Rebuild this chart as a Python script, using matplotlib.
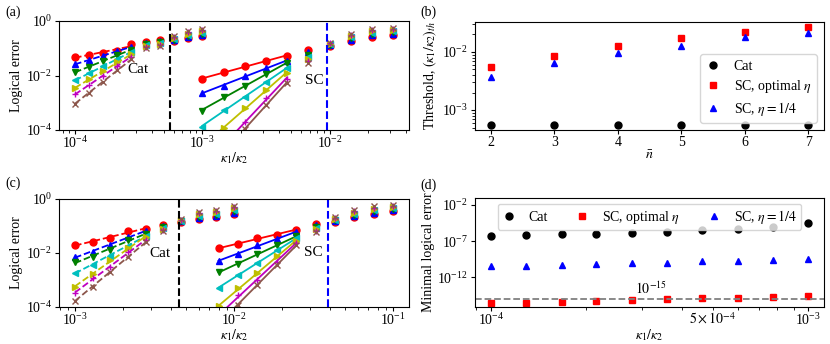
import numpy as np
import matplotlib
matplotlib.use('Agg')
import matplotlib.pyplot as plt
from matplotlib.ticker import FixedLocator, NullLocator, FuncFormatter

plt.rcParams['font.family'] = ['Liberation Serif', 'DejaVu Serif']
plt.rcParams['mathtext.fontset'] = 'stix'
plt.rcParams['font.size'] = 10
plt.rcParams['xtick.major.pad'] = 1.0
plt.rcParams['xtick.minor.pad'] = 1.0
plt.rcParams['ytick.major.pad'] = 2.0
plt.rcParams['xtick.major.size'] = 3.0
plt.rcParams['ytick.major.size'] = 3.0
plt.rcParams['axes.labelpad'] = 2.0

colors = ['r', 'b', 'g', 'c', 'y', 'm', 'tab:brown']
markers = ['o', '^', 'v', '<', '>', '+', 'x']

# ---- panel (a): log10 of logical error, one row per nbar ----
a_cat_x = [1.00e-4, 1.29e-4, 1.67e-4, 2.15e-4, 2.78e-4, 3.59e-4, 4.64e-4, 5.99e-4, 7.74e-4, 1.00e-3]
a_cat_e = [
    [-1.31, -1.25, -1.17, -1.09, -0.86, -0.76, -0.70, -0.74, -0.62, -0.55],
    [-1.59, -1.43, -1.27, -1.10, -0.95, -0.80, -0.73, -0.71, -0.58, -0.51],
    [-1.88, -1.68, -1.47, -1.25, -1.05, -0.84, -0.77, -0.68, -0.54, -0.47],
    [-2.18, -1.92, -1.66, -1.38, -1.14, -0.88, -0.80, -0.65, -0.50, -0.43],
    [-2.45, -2.14, -1.85, -1.52, -1.22, -0.92, -0.83, -0.61, -0.46, -0.38],
    [-2.69, -2.35, -2.01, -1.64, -1.31, -0.96, -0.87, -0.58, -0.42, -0.34],
    [-3.03, -2.63, -2.23, -1.80, -1.41, -1.00, -0.90, -0.55, -0.38, -0.30],
]
a_sc_x = [1.00e-3, 1.47e-3, 2.15e-3, 3.16e-3, 4.64e-3, 6.81e-3, 1.00e-2, 1.47e-2, 2.15e-2, 3.16e-2]
a_sc_e = [
    [-2.14, -1.86, -1.66, -1.48, -1.27, -1.08, -0.90, -0.72, -0.57, -0.50],
    [-2.65, -2.37, -2.01, -1.74, -1.46, -1.15, -0.88, -0.68, -0.52, -0.46],
    [-3.30, -2.78, -2.37, -1.96, -1.55, -1.23, -0.87, -0.63, -0.47, -0.42],
    [-3.88, -3.27, -2.78, -2.23, -1.74, -1.31, -0.85, -0.59, -0.43, -0.38],
    [-4.60, -3.94, -3.20, -2.53, -1.90, -1.39, -0.83, -0.55, -0.38, -0.33],
    [-5.40, -4.55, -3.72, -2.84, -2.12, -1.47, -0.82, -0.50, -0.33, -0.29],
    [-5.70, -4.80, -3.98, -3.08, -2.26, -1.55, -0.80, -0.46, -0.28, -0.25],
]
a_thresholds = [5.56e-4, 9.5e-3]

# ---- panel (b): thresholds vs nbar ----
nbar = [2, 3, 4, 5, 6, 7]
thr_cat = [5.5e-4, 5.5e-4, 5.5e-4, 5.5e-4, 5.5e-4, 5.5e-4]
thr_sc_opt = [5.5e-3, 8.6e-3, 1.26e-2, 1.72e-2, 2.2e-2, 2.73e-2]
thr_sc_quarter = [3.7e-3, 6.4e-3, 9.5e-3, 1.29e-2, 1.79e-2, 2.12e-2]

# ---- panel (c) ----
c_cat_x = [1.00e-3, 1.29e-3, 1.67e-3, 2.15e-3, 2.78e-3, 3.59e-3, 4.64e-3, 5.99e-3, 7.74e-3, 1.00e-2]
c_cat_e = [
    [-1.69, -1.61, -1.44, -1.19, -1.10, -0.96, -0.85, -0.74, -0.68, -0.55],
    [-2.14, -1.96, -1.71, -1.40, -1.18, -1.00, -0.83, -0.70, -0.63, -0.50],
    [-2.33, -2.14, -1.89, -1.52, -1.28, -1.03, -0.82, -0.66, -0.58, -0.45],
    [-2.73, -2.43, -2.10, -1.73, -1.36, -1.07, -0.80, -0.62, -0.54, -0.40],
    [-3.26, -2.77, -2.27, -1.82, -1.42, -1.10, -0.78, -0.57, -0.49, -0.35],
    [-3.50, -2.92, -2.52, -1.98, -1.53, -1.14, -0.77, -0.53, -0.44, -0.30],
    [-3.76, -3.26, -2.70, -2.15, -1.60, -1.17, -0.75, -0.49, -0.39, -0.25],
]
c_sc_x = [8.00e-3, 1.06e-2, 1.40e-2, 1.86e-2, 2.46e-2, 3.26e-2, 4.31e-2, 5.71e-2, 7.55e-2, 1.00e-1]
c_sc_e = [
    [-1.83, -1.65, -1.46, -1.32, -1.13, -0.92, -0.84, -0.66, -0.56, -0.45],
    [-2.30, -2.02, -1.71, -1.49, -1.22, -0.97, -0.81, -0.62, -0.51, -0.41],
    [-2.72, -2.39, -2.05, -1.72, -1.38, -1.02, -0.78, -0.58, -0.46, -0.37],
    [-3.28, -2.82, -2.38, -1.90, -1.46, -1.07, -0.76, -0.54, -0.42, -0.34],
    [-3.98, -3.31, -2.75, -2.12, -1.55, -1.12, -0.73, -0.50, -0.37, -0.30],
    [-4.35, -3.55, -3.00, -2.32, -1.62, -1.17, -0.70, -0.46, -0.32, -0.26],
    [-4.60, -3.93, -3.19, -2.45, -1.71, -1.22, -0.67, -0.42, -0.27, -0.23],
]
c_thresholds = [4.49e-3, 3.9e-2]

# ---- panel (d): log10 of minimal logical error ----
d_x = [1.00e-4, 1.29e-4, 1.67e-4, 2.15e-4, 2.78e-4, 3.59e-4, 4.64e-4, 5.99e-4, 7.74e-4, 1.00e-3]
d_cat = [-6.27, -6.17, -6.07, -5.99, -5.85, -5.71, -5.52, -5.34, -5.06, -4.55]
d_sc_opt = [-15.55, -15.46, -15.37, -15.24, -15.04, -15.00, -14.90, -14.82, -14.68, -14.54]
d_sc_quarter = [-10.48, -10.40, -10.30, -10.20, -10.06, -9.98, -9.79, -9.70, -9.61, -9.51]


def draw_errors(ax, cat_x, cat_e, sc_x, sc_e, thr, cat_pos, sc_pos):
    for xs, es, ls in ((cat_x, cat_e, '--'), (sc_x, sc_e, '-')):
        x = np.array(xs)
        lx = np.log10(x)
        for i in range(7):
            e = np.array(es[i])
            k = np.polyfit(lx[:5], e[:5], 1)
            ax.plot(x[:5], 10 ** np.polyval(k, lx[:5]), ls, color=colors[i], lw=1.3)
            ax.plot(x, 10 ** e, ls='none', marker=markers[i], color=colors[i], ms=5)
    ax.axvline(thr[0], color='k', ls='--', lw=1.5)
    ax.axvline(thr[1], color='b', ls='--', lw=1.5)
    ax.text(cat_pos[0], cat_pos[1], 'Cat', ha='center', va='center', fontsize=11)
    ax.text(sc_pos[0], sc_pos[1], 'SC', ha='center', va='center', fontsize=11)
    ax.set_xscale('log')
    ax.set_yscale('log')
    ax.set_ylim(1e-4, 1)
    ax.yaxis.set_major_locator(FixedLocator([1e-4, 1e-2, 1]))
    ax.yaxis.set_minor_locator(NullLocator())
    ax.set_xlabel(r'$\kappa_1/\kappa_2$', labelpad=-1.0)
    ax.set_ylabel('Logical error')


fig = plt.figure(figsize=(8.3, 3.44), dpi=100)

ax_a = fig.add_axes([0.0711, 0.622, 0.4217, 0.317])
draw_errors(ax_a, a_cat_x, a_cat_e, a_sc_x, a_sc_e, a_thresholds, (3.1e-4, 0.016), (7.6e-3, 6.8e-3))

ax_b = fig.add_axes([0.5723, 0.622, 0.4205, 0.315])
ax_b.plot(nbar, thr_cat, 'o', color='k', ms=5, label='Cat')
ax_b.plot(nbar, thr_sc_opt, 's', color='r', ms=5, label=r'SC, optimal $\eta$')
ax_b.plot(nbar, thr_sc_quarter, '^', color='b', ms=5, label=r'SC, $\eta=1/4$')
ax_b.set_yscale('log')
ax_b.set_xlabel(r'$\bar{n}$', labelpad=0)
ax_b.set_ylabel(r'Threshold, $(\kappa_1/\kappa_2)_{th}$')
ax_b.legend(loc='lower right', handlelength=1.0, handletextpad=1.0, labelspacing=0.35)

ax_c = fig.add_axes([0.0711, 0.1076, 0.4217, 0.3139])
draw_errors(ax_c, c_cat_x, c_cat_e, c_sc_x, c_sc_e, c_thresholds, (3.43e-3, 9.3e-3), (3.14e-2, 1.07e-2))

ax_d = fig.add_axes([0.5723, 0.1076, 0.4205, 0.3168])
ax_d.plot(d_x, 10.0 ** np.array(d_cat), 'o', color='k', ms=5, label='Cat')
ax_d.plot(d_x, 10.0 ** np.array(d_sc_opt), 's', color='r', ms=5, label=r'SC, optimal $\eta$')
ax_d.plot(d_x, 10.0 ** np.array(d_sc_quarter), '^', color='b', ms=5, label=r'SC, $\eta=1/4$')
ax_d.axhline(1e-15, color='gray', ls='--', lw=1.3)
ax_d.text(3.2e-4, 10 ** -14.75, r'$10^{-15}$', ha='center', va='bottom')
ax_d.set_xscale('log')
ax_d.set_yscale('log')
ax_d.set_ylim(10 ** -16.07, 10 ** -1.07)
ax_d.yaxis.set_major_locator(FixedLocator([1e-12, 1e-7, 1e-2]))
ax_d.yaxis.set_minor_locator(NullLocator())
ax_d.xaxis.set_minor_formatter(FuncFormatter(
    lambda v, p: r'$5\times10^{-4}$' if abs(v - 5e-4) < 1e-7 else ''))
ax_d.set_xlabel(r'$\kappa_1/\kappa_2$', labelpad=-1.0)
ax_d.set_ylabel('Minimal logical error')
ax_d.legend(loc='upper center', ncol=3, handlelength=1.0, handletextpad=0.9,
            columnspacing=2.0, borderaxespad=0.4, borderpad=0.3)

fig.text(0.006, 0.965, '(a)', va='center')
fig.text(0.506, 0.965, '(b)', va='center')
fig.text(0.006, 0.468, '(c)', va='center')
fig.text(0.506, 0.462, '(d)', va='center')

fig.savefig('out.png', dpi=100)
